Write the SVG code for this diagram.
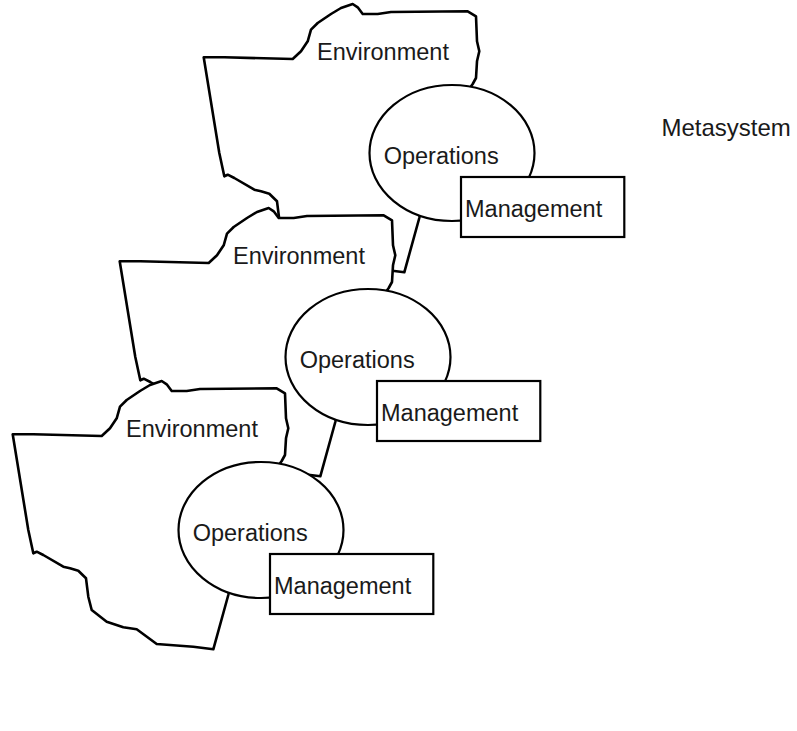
<svg xmlns="http://www.w3.org/2000/svg" xmlns:xlink="http://www.w3.org/1999/xlink" width="797" height="731" viewBox="0 0 797 731">
<style>
.env{fill:#fff;stroke:#000;stroke-width:2.6;stroke-linejoin:round}
.ops{fill:#fff;stroke:#000;stroke-width:2.2}
.mgmt{fill:#fff;stroke:#000;stroke-width:2.2}
.t{font-family:"Liberation Sans",Arial,sans-serif;font-size:23.5px;fill:#1a1a1a}
.meta{font-size:24px}
</style>
<defs>
<path id="blob" d="M12.7,434.3 L33.3,434.3 L101.7,436 L110,428.3 L116.7,418.3 L120,406.7 L126.7,400 L140,391 L150,385 L161.7,381 L166.7,384.3 L171.7,391 L186.7,391 L200,389 L276.7,388.3 L285,393.3 L286,418.3 L288.3,428.3 L286,438.3 L285,455 L281.7,461 L240,520 L228.3,595 L213.3,649.3 L193.3,646.7 L156.7,644 L136.7,629.3 L123.3,627.3 L106.7,621.7 L91.7,610 L88.3,596.7 L86,578.3 L78.3,570.7 L70,568.3 L63.3,566.7 L43.3,555 L36.7,551.7 L33.3,553.3 L28.3,530 Z"/>
</defs>
<g id="connectors"/>
<g id="system-top" transform="translate(191,-377)">
<g id="env-top"><use xlink:href="#blob" href="#blob" class="env"/><text class="t" x="126" y="437.3">Environment</text></g>
<g id="ops-top"><ellipse class="ops" cx="261" cy="530" rx="82.5" ry="68"/><text class="t" x="192.7" y="540.7">Operations</text></g>
<g id="mgmt-top"><rect class="mgmt" x="270" y="554" width="163.3" height="60"/><text class="t" x="274" y="593.5">Management</text></g>
</g>
<g id="system-mid" transform="translate(107,-173)">
<g id="env-mid"><use xlink:href="#blob" href="#blob" class="env"/><text class="t" x="126" y="437.3">Environment</text></g>
<g id="ops-mid"><ellipse class="ops" cx="261" cy="530" rx="82.5" ry="68"/><text class="t" x="192.7" y="540.7">Operations</text></g>
<g id="mgmt-mid"><rect class="mgmt" x="270" y="554" width="163.3" height="60"/><text class="t" x="274" y="593.5">Management</text></g>
</g>
<g id="system-bot">
<g id="env-bot"><use xlink:href="#blob" href="#blob" class="env"/><text class="t" x="126" y="437.3">Environment</text></g>
<g id="ops-bot"><ellipse class="ops" cx="261" cy="530" rx="82.5" ry="68"/><text class="t" x="192.7" y="540.7">Operations</text></g>
<g id="mgmt-bot"><rect class="mgmt" x="270" y="554" width="163.3" height="60"/><text class="t" x="274" y="593.5">Management</text></g>
</g>
<g id="metasystem"><text class="t meta" x="661.5" y="136">Metasystem</text></g>
</svg>
